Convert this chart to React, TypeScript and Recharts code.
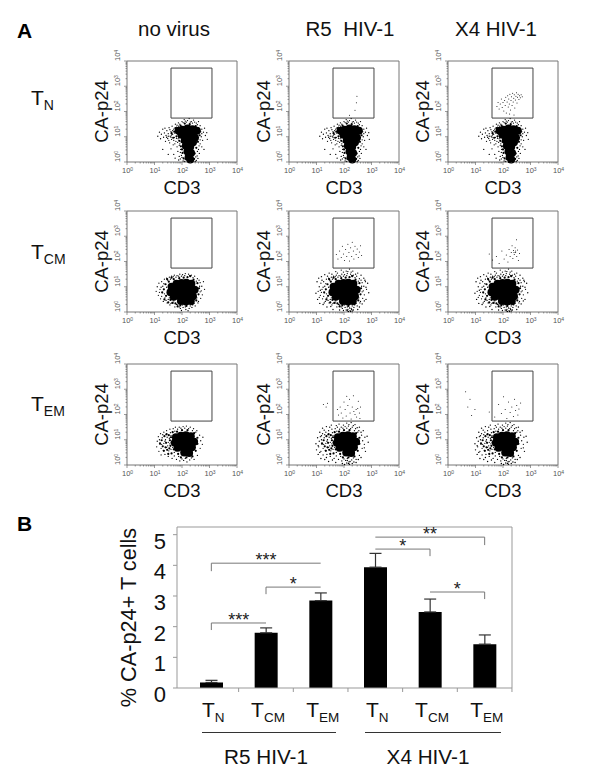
import { Bar, BarChart, ErrorBar, Label, ReferenceArea, ReferenceLine, Scatter, ScatterChart, XAxis, YAxis } from "recharts";

const FONT = "'Liberation Sans', Arial, sans-serif";

// flow panels: values are log10 exponents
const logTicks = [
  0, 0.3, 0.48, 0.6, 0.7, 0.78, 0.85, 0.9, 0.95, 1, 1.3, 1.48, 1.6, 1.7, 1.78, 1.85, 1.9, 1.95, 2, 2.3, 2.48, 2.6, 2.7,
  2.78, 2.85, 2.9, 2.95, 3, 3.3, 3.48, 3.6, 3.7, 3.78, 3.85, 3.9, 3.95, 4,
];
const gate = { x1: 1.6, x2: 3.09, y1: 1.74, y2: 3.72 };

const coreN = [
  [1.88, 1.24], [2.02, 1.28], [2.2, 1.33], [2.38, 1.3], [2.54, 1.24], [1.98, 1.08], [2.16, 1.08], [2.33, 1.06], [2.47, 0.96],
  [2.1, 0.86], [2.27, 0.84], [2.4, 0.78], [2.14, 0.64], [2.3, 0.6], [2.2, 0.42], [2.33, 0.36], [2.24, 0.2], [2.3, 0.1],
];
const midN = [
  [1.72, 1.2], [1.8, 1.02], [1.84, 1.3], [1.9, 0.84], [1.95, 1.44], [1.96, 0.62], [2.1, 1.52], [2.28, 1.5], [2.5, 1.42],
  [2.62, 1.26], [2.64, 1.06], [2.58, 0.8], [2.52, 0.56], [2.46, 0.34], [2.02, 0.36], [2.06, 0.14], [2.44, 0.12],
  [1.62, 1.14], [1.68, 0.96], [1.76, 1.34], [1.86, 1.12], [1.9, 0.98], [1.98, 0.8], [2.0, 0.5], [2.56, 1.34],
];
const haloN = [
  [1.12, 1.02], [1.18, 1.18], [1.22, 0.92], [1.25, 1.1], [1.3, 1.3], [1.33, 0.98], [1.36, 1.15], [1.4, 0.82],
  [1.42, 1.05], [1.45, 1.24], [1.48, 0.93], [1.5, 1.12], [1.53, 1.36], [1.55, 0.76], [1.57, 1.02], [1.6, 1.2],
  [1.62, 0.9], [1.64, 1.42], [1.66, 1.1], [1.68, 0.68], [1.7, 1.3], [1.72, 0.97], [1.74, 1.14], [1.76, 1.5],
  [1.78, 0.82], [1.62, 1.07], [1.8, 1.38], [1.82, 0.6], [1.84, 1.14], [1.86, 0.92], [1.87, 1.55], [1.5, 1.02],
  [1.3, 0.5], [1.5, 0.3], [1.6, 0.52], [1.7, 0.3], [1.75, 0.15], [1.85, 0.42], [1.9, 0.22], [1.92, 0.72],
  [1.95, 0.5], [1.88, 0.08], [1.98, 0.26], [2.0, 1.6], [2.08, 1.68], [2.16, 1.58], [2.26, 1.72], [2.34, 1.6],
  [2.42, 1.66], [2.52, 1.54], [2.6, 1.6], [2.66, 1.44], [2.72, 1.3], [2.78, 1.18], [2.82, 1.34], [2.7, 1.0],
  [2.75, 0.86], [2.85, 1.05], [2.9, 1.16], [2.66, 0.72], [2.72, 0.6], [2.6, 0.5], [2.63, 0.34], [2.55, 0.24],
  [2.8, 0.5], [2.52, 0.06], [2.04, 0.04], [1.94, 0.12], [2.58, 0.14], [2.92, 0.9], [2.48, 0.02], [2.1, 0.02],
  [1.38, 1.34], [1.44, 0.98], [1.52, 0.86], [1.56, 1.28], [1.6, 0.98], [1.66, 1.24], [1.7, 0.86], [1.74, 0.72],
  [1.78, 1.22], [1.8, 0.94], [1.82, 1.46], [1.84, 0.78], [1.88, 1.42], [1.9, 0.66], [1.92, 1.5], [1.94, 0.38],
  [2.04, 1.56], [2.12, 1.62], [2.2, 1.64], [2.3, 1.58], [2.38, 1.54], [2.46, 1.58], [2.56, 1.48], [2.68, 1.2],
  [2.72, 1.12], [2.6, 0.96], [2.66, 0.88], [2.62, 0.64], [2.56, 0.42], [2.5, 0.2], [2.12, 0.1], [2.0, 0.18],
];

const coreCM = [
  [1.62, 1.0], [1.8, 1.12], [1.98, 1.15], [2.16, 1.16], [2.34, 1.12], [1.58, 0.78], [1.76, 0.86], [1.94, 0.9],
  [2.12, 0.92], [2.3, 0.9], [2.46, 0.88], [1.7, 0.6], [1.88, 0.64], [2.06, 0.66], [2.24, 0.66], [2.4, 0.62],
  [1.96, 0.44], [2.14, 0.42], [2.32, 0.44],
];
const midCM = [
  [1.34, 0.9], [1.4, 1.1], [1.42, 0.64], [1.52, 1.2], [1.58, 0.48], [1.7, 1.3], [1.76, 0.34], [1.9, 1.34], [2.06, 1.36],
  [2.2, 1.38], [2.42, 1.28], [2.56, 1.14], [2.62, 0.94], [2.6, 0.7], [2.52, 0.46], [2.38, 0.3], [2.16, 0.24], [1.94, 0.26],
  [1.28, 0.78], [1.36, 0.5], [1.46, 1.3], [1.5, 0.38], [1.62, 1.36], [1.66, 0.36], [1.84, 0.22], [2.3, 1.42],
];
const haloCM = [
  [1.06, 0.82], [1.1, 1.0], [1.14, 0.66], [1.16, 1.14], [1.2, 0.9], [1.22, 0.52], [1.26, 1.2], [1.28, 0.76],
  [1.3, 1.02], [1.32, 0.42], [1.36, 1.3], [1.38, 0.56], [1.44, 1.34], [1.46, 0.36], [1.5, 0.5], [1.54, 1.38],
  [1.56, 0.28], [1.62, 1.42], [1.64, 0.38], [1.72, 1.46], [1.74, 0.2], [1.82, 1.44], [1.84, 0.28], [1.92, 1.5],
  [1.94, 0.14], [2.02, 1.48], [2.04, 0.18], [2.12, 1.52], [2.14, 0.1], [2.24, 1.5], [2.26, 0.14], [2.34, 1.46],
  [2.36, 0.18], [2.46, 1.42], [2.48, 0.24], [2.56, 1.32], [2.58, 0.36], [2.66, 1.16], [2.68, 0.54], [2.7, 0.84],
  [2.72, 1.02], [2.74, 0.68], [2.78, 1.2], [2.82, 0.9], [2.22, 0.05], [1.98, 0.06], [1.44, 0.98], [1.5, 0.72],
  [1.18, 0.78], [1.24, 0.98], [1.26, 0.62], [1.34, 1.12], [1.36, 0.72], [1.42, 0.46], [1.48, 1.26], [1.54, 0.56],
  [1.58, 1.3], [1.6, 0.34], [1.68, 1.4], [1.7, 0.44], [1.78, 1.38], [1.8, 0.3], [1.88, 1.42], [1.9, 0.2],
  [1.98, 1.42], [2.02, 0.28], [2.1, 1.44], [2.12, 0.2], [2.28, 1.44], [2.3, 0.24], [2.4, 1.36], [2.44, 0.34],
  [2.52, 1.22], [2.54, 0.56], [2.64, 1.02], [2.66, 0.8], [2.6, 0.42], [2.62, 1.26],
];
// the infected samples spread a bit wider than the uninfected one
const extraCM = [
  [0.98, 0.74], [1.02, 1.2], [1.04, 0.5], [1.08, 1.34], [1.12, 0.34], [1.18, 1.4], [1.24, 0.3], [1.3, 1.48],
  [1.38, 0.2], [1.46, 1.54], [1.6, 0.1], [1.7, 1.6], [1.84, 0.08], [1.9, 1.66], [2.08, 1.62], [2.2, 1.7], [2.32, 1.62],
  [2.5, 1.54], [2.62, 1.46], [2.72, 1.34], [2.86, 1.14], [2.9, 0.76], [2.8, 0.5], [2.66, 0.32], [2.5, 0.1],
  [2.3, 0.04], [2.16, 0.02], [2.28, 0.1], [2.08, 0.08], [2.2, 0.16], [1.1, 0.58], [1.14, 0.86], [1.2, 1.26],
  [1.28, 0.36], [1.4, 1.42], [1.52, 0.22], [1.56, 1.5], [1.76, 1.54], [1.98, 1.58], [2.14, 1.6], [2.26, 1.58],
  [2.42, 1.5], [2.56, 0.2], [2.74, 0.44], [2.8, 0.98], [2.76, 1.26], [2.34, 0.08], [2.12, 0.05], [2.24, 0.02],
];

const coreEM = [
  [1.78, 1.1], [1.96, 1.16], [2.14, 1.18], [2.32, 1.14], [1.74, 0.88], [1.92, 0.94], [2.1, 0.96], [2.28, 0.94],
  [2.44, 0.92], [1.84, 0.68], [2.02, 0.72], [2.2, 0.72], [2.36, 0.7], [2.08, 0.5], [2.26, 0.48],
];
const midEM = [
  [1.26, 0.98], [1.3, 0.74], [1.36, 1.14], [1.42, 0.88], [1.46, 0.6], [1.52, 1.18], [1.56, 0.98], [1.58, 0.76],
  [1.62, 0.46], [1.66, 1.3], [1.7, 0.62], [1.82, 1.32], [1.86, 0.44], [2.0, 1.38], [2.2, 1.38], [2.44, 1.26], [2.56, 1.08],
  [2.56, 0.84], [2.5, 0.56], [2.38, 0.34], [2.16, 0.3], [1.96, 0.3], [1.34, 0.56], [1.44, 1.22], [1.5, 0.44],
  [1.6, 1.1], [1.62, 0.9], [1.4, 0.7], [1.2, 0.86], [1.54, 0.66],
];
const haloEM = [
  [1.08, 0.72], [1.1, 0.94], [1.14, 1.12], [1.16, 0.54], [1.2, 0.82], [1.22, 1.24], [1.24, 0.4], [1.28, 1.08],
  [1.32, 0.58], [1.34, 1.3], [1.38, 0.42], [1.4, 1.0], [1.44, 1.36], [1.48, 0.76], [1.5, 0.34], [1.54, 1.06],
  [1.56, 1.42], [1.6, 0.62], [1.64, 0.26], [1.68, 1.44], [1.72, 0.36], [1.76, 1.5], [1.8, 0.22], [1.9, 1.5],
  [1.92, 0.16], [2.04, 1.52], [2.06, 0.18], [2.16, 1.54], [2.18, 0.12], [2.3, 1.5], [2.28, 0.2], [2.42, 1.44],
  [2.44, 0.22], [2.54, 1.36], [2.56, 0.38], [2.64, 1.18], [2.66, 0.66], [2.68, 0.96], [2.74, 0.82], [2.76, 1.1],
  [1.34, 0.86], [1.44, 0.7], [1.24, 0.66], [1.5, 0.9], [1.62, 0.86], [1.66, 1.02], [1.6, 1.16], [1.42, 1.2],
  [1.18, 1.0], [1.26, 0.82], [1.3, 1.2], [1.38, 0.94], [1.46, 1.1], [1.52, 0.56], [1.56, 0.84], [1.58, 1.28],
  [1.66, 0.7], [1.7, 0.84], [1.68, 1.18], [1.72, 0.5], [1.74, 1.34], [1.78, 0.56], [1.84, 1.42], [1.88, 0.34],
  [1.96, 1.46], [2.0, 0.24], [2.1, 1.46], [2.12, 0.26], [2.24, 1.44], [2.34, 0.28], [2.38, 1.36], [2.5, 1.3],
];
const extraEM = [
  [0.98, 0.84], [1.0, 0.6], [1.04, 1.08], [1.06, 0.42], [1.12, 1.3], [1.16, 0.26], [1.22, 1.46], [1.3, 0.22],
  [1.36, 1.52], [1.44, 0.14], [1.54, 1.58], [1.7, 0.1], [1.82, 1.62], [1.94, 0.06], [2.1, 1.66], [2.26, 1.68],
  [2.4, 1.6], [2.56, 1.5], [2.7, 1.36], [2.84, 1.14], [2.88, 0.9], [2.78, 0.54], [2.62, 0.3], [2.44, 0.1],
  [2.2, 0.03], [2.1, 0.08], [2.3, 0.06], [2.22, 0.14], [2.02, 0.02], [2.12, 0.18], [1.06, 0.76], [1.12, 0.5],
  [1.18, 1.16], [1.28, 1.38], [1.36, 0.3], [1.48, 1.5], [1.58, 0.2], [1.72, 1.56], [1.98, 1.58], [2.18, 1.6],
  [2.34, 1.56], [2.48, 1.48], [2.62, 1.3], [2.74, 0.68], [2.52, 0.22], [2.36, 0.12], [2.16, 0.06],
];

const gateR5N = [[2.47, 2.6], [2.45, 2.35], [2.4, 2.05], [2.2, 1.85]];
const gateX4N = [
  [1.78, 2.2], [1.82, 2.36], [1.86, 2.1], [1.9, 2.3], [1.94, 2.5], [1.97, 2.16], [2.0, 2.36], [2.03, 2.02],
  [2.06, 2.44], [2.08, 2.24], [2.1, 2.56], [2.12, 1.94], [2.15, 2.38], [2.17, 2.62], [2.19, 2.18], [2.21, 2.5],
  [2.23, 2.3], [2.25, 2.68], [2.27, 2.06], [2.29, 2.44], [2.31, 2.58], [2.33, 2.24], [2.35, 2.72], [2.37, 2.38],
  [2.39, 2.52], [2.41, 2.66], [2.43, 2.14], [2.45, 2.46], [2.47, 2.6], [2.49, 2.74], [2.51, 2.34], [2.53, 2.56],
  [2.55, 2.68], [2.58, 2.48], [2.6, 2.62], [2.63, 2.54], [2.66, 2.66], [2.7, 2.58], [2.24, 1.9], [2.4, 1.86],
];
const gateR5CM = [
  [1.72, 2.28], [1.78, 2.1], [1.84, 2.42], [1.9, 2.16], [1.94, 2.6], [1.98, 2.3], [2.02, 2.04], [2.06, 2.48],
  [2.1, 2.2], [2.14, 2.68], [2.18, 2.36], [2.2, 2.02], [2.24, 2.54], [2.28, 2.2], [2.3, 2.76], [2.34, 2.42],
  [2.36, 2.1], [2.4, 2.6], [2.44, 2.28], [2.48, 2.5], [2.52, 2.16], [2.56, 2.38], [2.6, 2.62], [2.64, 2.24],
];
const gateX4CM = [
  [1.5, 2.3], [1.62, 2.06], [1.76, 2.2], [1.86, 1.92], [1.96, 2.42], [2.04, 2.1], [2.12, 2.26], [2.18, 1.98],
  [2.22, 2.48], [2.26, 2.2], [2.3, 2.36], [2.33, 2.62], [2.36, 2.12], [2.38, 2.44], [2.41, 2.28], [2.44, 2.54],
  [2.46, 2.36], [2.49, 2.86], [2.5, 2.2], [2.53, 2.46], [2.56, 2.04], [2.6, 2.32], [2.46, 2.42], [2.4, 2.36],
];
const gateR5EM = [
  [1.25, 2.4], [1.35, 2.3], [1.4, 2.45], [1.76, 2.2], [1.8, 1.98], [1.86, 2.3], [1.9, 2.06], [1.96, 1.86],
  [2.0, 2.5], [2.04, 2.2], [2.08, 1.94], [2.1, 2.72], [2.14, 2.36], [2.2, 2.6], [2.22, 2.06], [2.26, 1.82],
  [2.3, 2.3], [2.34, 2.74], [2.36, 2.12], [2.4, 2.0], [2.44, 2.2], [2.46, 1.9], [2.5, 2.24], [2.52, 2.52],
  [2.56, 2.06], [2.58, 1.84], [2.6, 2.3],
];
const gateX4EM = [
  [0.64, 2.9], [0.72, 2.3], [0.8, 2.6], [0.86, 1.96], [0.98, 2.2], [1.5, 2.1], [1.7, 1.9], [1.84, 2.4], [1.94, 2.04],
  [2.02, 2.7], [2.08, 2.2], [2.14, 1.84], [2.2, 2.5], [2.26, 2.08], [2.32, 2.3], [2.38, 1.92], [2.42, 2.6],
  [2.46, 2.16], [2.5, 2.36], [2.54, 1.98], [2.58, 2.22], [2.64, 2.46],
];

// bar panel
const barCategories = ["R5-N", "R5-CM", "R5-EM", "X4-N", "X4-CM", "X4-EM"];
const barSubscripts = ["N", "CM", "EM", "N", "CM", "EM"];
const barValues = [0.18, 1.8, 2.85, 3.94, 2.48, 1.43];
const barErrors = [0.07, 0.16, 0.25, 0.45, 0.42, 0.3];
const barTicks = [0, 1, 2, 3, 4, 5];

const brackets = [
  { from: "R5-N", to: "R5-CM", y: 2.12, dropAt: "R5-N", dropTo: 1.89, stars: "***" },
  { from: "R5-N", to: "R5-EM", y: 4.07, dropAt: "R5-N", dropTo: 3.81, stars: "***" },
  { from: "R5-CM", to: "R5-EM", y: 3.29, dropAt: "R5-CM", dropTo: 3.06, stars: "*" },
  { from: "X4-N", to: "X4-CM", y: 4.53, dropAt: "X4-CM", dropTo: 4.3, stars: "*" },
  { from: "X4-N", to: "X4-EM", y: 4.92, dropAt: "X4-EM", dropTo: 4.66, stars: "**" },
  { from: "X4-CM", to: "X4-EM", y: 3.13, dropAt: "X4-EM", dropTo: 2.9, stars: "*" },
];

const barData = barCategories.map((name, i) => ({
  name,
  sub: barSubscripts[i],
  value: barValues[i],
  err: [0, barErrors[i]],
}));

const toPoints = (list: number[][]) => list.map(([x, y]) => ({ x, y }));

const dot = (r: number) => (p: any) => <circle cx={p.cx} cy={p.cy} r={r} fill="#000" />;

function LogTickX({ x, y, payload }: any) {
  const major = Number.isInteger(payload.value);
  return (
    <g>
      <line x1={x} x2={x} y1={y - 8} y2={y - 8 + (major ? 3 : 1.5)} stroke="#555" strokeWidth={0.6} />
      {major && (
        <text x={x - 5} y={y + 3} fontSize={7.5} fill="#555" fontFamily={FONT}>
          10<tspan dy={-2.5} fontSize={5}>{payload.value}</tspan>
        </text>
      )}
    </g>
  );
}

function LogTickY({ x, y, payload }: any) {
  const major = Number.isInteger(payload.value);
  return (
    <g>
      <line x1={x + 8} x2={x + 8 - (major ? 3 : 1.5)} y1={y} y2={y} stroke="#555" strokeWidth={0.6} />
      {major && (
        <text transform={`translate(${x + 1},${y}) rotate(-90)`} fontSize={7.5} fill="#555" fontFamily={FONT}>
          10<tspan dy={-2.5} fontSize={5}>{payload.value}</tspan>
        </text>
      )}
    </g>
  );
}

interface PanelProps {
  left: number;
  top: number;
  core: number[][];
  mid: number[][];
  halo: number[][];
  extra?: number[][];
  events?: number[][];
}

function FlowPanel({ left, top, core, mid, halo, extra = [], events = [] }: PanelProps) {
  return (
    <div style={{ position: "absolute", left: left - 44, top: top - 20 }}>
      <ScatterChart width={166} height={161} margin={{ top: 20, right: 12, left: 0, bottom: 0 }}>
        <XAxis type="number" dataKey="x" domain={[0, 4]} ticks={logTicks} interval={0} height={40} tick={<LogTickX />} tickLine={false} axisLine={false}>
          <Label value="CD3" position="insideBottom" offset={8} style={{ fontSize: 18.5, fill: "#111", fontFamily: FONT }} />
        </XAxis>
        <YAxis type="number" dataKey="y" domain={[0, 4]} ticks={logTicks} interval={0} width={44} tick={<LogTickY />} tickLine={false} axisLine={false}>
          <Label value="CA-p24" angle={-90} position="insideLeft" offset={18} style={{ fontSize: 18.5, fill: "#111", fontFamily: FONT, textAnchor: "middle" }} />
        </YAxis>
        <ReferenceArea x1={0} x2={4} y1={0} y2={4} fill="none" stroke="#777" strokeWidth={1} />
        <ReferenceArea {...gate} fill="none" stroke="#444" strokeWidth={1} />
        <Scatter data={toPoints(core)} shape={dot(4)} isAnimationActive={false} />
        <Scatter data={toPoints(mid)} shape={dot(1.1)} isAnimationActive={false} />
        <Scatter data={toPoints(halo)} shape={dot(0.65)} isAnimationActive={false} />
        <Scatter data={toPoints(extra)} shape={dot(0.7)} isAnimationActive={false} />
        <Scatter data={toPoints(events)} shape={dot(0.5)} isAnimationActive={false} />
      </ScatterChart>
    </div>
  );
}

function BarTickX({ x, y, index }: any) {
  const sub = barSubscripts[index] ?? "";
  return (
    <g>
      <line x1={x + 27.3} x2={x + 27.3} y1={y - 8} y2={y - 4} stroke="#999" />
      <text x={x + 2} y={y + 21} textAnchor="middle" fontSize={21} fill="#111" fontFamily={FONT}>
        T<tspan dy={5} fontSize={13.5}>{sub}</tspan>
      </text>
    </g>
  );
}

function BarTickY({ x, y, payload }: any) {
  return (
    <text x={x - 5} y={y + 14} textAnchor="end" fontSize={22} fill="#111" fontFamily={FONT}>
      {payload.value}
    </text>
  );
}

function SubLabel({ left, top, sub }: { left: number; top: number; sub: string }) {
  return (
    <div style={{ position: "absolute", left, top, fontSize: 21, color: "#111", whiteSpace: "nowrap" }}>
      T<span style={{ fontSize: 14, position: "relative", top: 5 }}>{sub}</span>
    </div>
  );
}

function Title({ center, top, size, children }: any) {
  return (
    <div style={{ position: "absolute", left: center - 100, width: 200, top, textAlign: "center", fontSize: size, color: "#111", whiteSpace: "pre" }}>
      {children}
    </div>
  );
}

export default function App() {
  return (
    <div style={{ position: "absolute", left: 0, top: 0, width: 600, height: 780, background: "#fff", fontFamily: FONT, overflow: "hidden" }}>
      <div style={{ position: "absolute", left: 17, top: 19, fontSize: 21, fontWeight: 700 }}>A</div>
      <div style={{ position: "absolute", left: 17, top: 512, fontSize: 21, fontWeight: 700 }}>B</div>

      <Title center={174} top={17} size={20.5}>no virus</Title>
      <Title center={350} top={17} size={20.5}>{"R5  HIV-1"}</Title>
      <Title center={496} top={17} size={20.5}>X4 HIV-1</Title>

      <SubLabel left={31} top={86} sub="N" />
      <SubLabel left={31} top={240} sub="CM" />
      <SubLabel left={31} top={392} sub="EM" />

      <FlowPanel left={127} top={61} core={coreN} mid={midN} halo={haloN} />
      <FlowPanel left={289} top={61} core={coreN} mid={midN} halo={haloN} events={gateR5N} />
      <FlowPanel left={448} top={61} core={coreN} mid={midN} halo={haloN} events={gateX4N} />

      <FlowPanel left={127} top={211} core={coreCM} mid={midCM} halo={haloCM} />
      <FlowPanel left={289} top={211} core={coreCM} mid={midCM} halo={haloCM} extra={extraCM} events={gateR5CM} />
      <FlowPanel left={448} top={211} core={coreCM} mid={midCM} halo={haloCM} extra={extraCM} events={gateX4CM} />

      <FlowPanel left={127} top={364} core={coreEM} mid={midEM} halo={haloEM} />
      <FlowPanel left={289} top={364} core={coreEM} mid={midEM} halo={haloEM} extra={extraEM} events={gateR5EM} />
      <FlowPanel left={448} top={364} core={coreEM} mid={midEM} halo={haloEM} extra={extraEM} events={gateX4EM} />

      <div style={{ position: "absolute", left: 100, top: 500 }}>
        <BarChart width={430} height={230} data={barData} margin={{ top: 27, right: 18, left: 0, bottom: 0 }} barSize={23}>
          <XAxis dataKey="name" height={42} padding={{ left: 7, right: 0 }} interval={0} stroke="#999" tickLine={false} tick={<BarTickX />} />
          <YAxis domain={[0, 5.25]} ticks={barTicks} width={77} stroke="#999" tick={<BarTickY />} tickSize={4}>
            <Label value="% CA-p24+ T cells" angle={-90} position="insideLeft" offset={28} dy={10} style={{ fontSize: 21.7, fill: "#111", fontFamily: FONT, textAnchor: "middle" }} />
          </YAxis>
          {/* top and right edges of the plot frame */}
          <ReferenceLine y={5.25} stroke="#999" ifOverflow="extendDomain" />
          <ReferenceLine x="X4-EM" position="end" stroke="#999" />
          <Bar dataKey="value" fill="#000" isAnimationActive={false}>
            <ErrorBar dataKey="err" direction="y" width={6} stroke="#333" strokeWidth={1.2} isAnimationActive={false} />
          </Bar>
          {brackets.map((b) => (
            <ReferenceLine
              key={`${b.from}-${b.to}`}
              segment={[{ x: b.from, y: b.y }, { x: b.to, y: b.y }]}
              stroke="#777"
              label={{ value: b.stars, position: "top", offset: -3, fontSize: 18, fill: "#222", fontFamily: FONT }}
            />
          ))}
          {brackets.map((b) => (
            <ReferenceLine
              key={`drop-${b.from}-${b.to}`}
              segment={[{ x: b.dropAt, y: b.y }, { x: b.dropAt, y: b.dropTo }]}
              stroke="#777"
            />
          ))}
        </BarChart>
      </div>

      <div style={{ position: "absolute", left: 202, top: 732, width: 134, borderTop: "1px solid #333" }} />
      <div style={{ position: "absolute", left: 365, top: 732, width: 136, borderTop: "1px solid #333" }} />
      <Title center={266} top={745} size={20.7}>R5 HIV-1</Title>
      <Title center={428} top={745} size={20.7}>X4 HIV-1</Title>
    </div>
  );
}
